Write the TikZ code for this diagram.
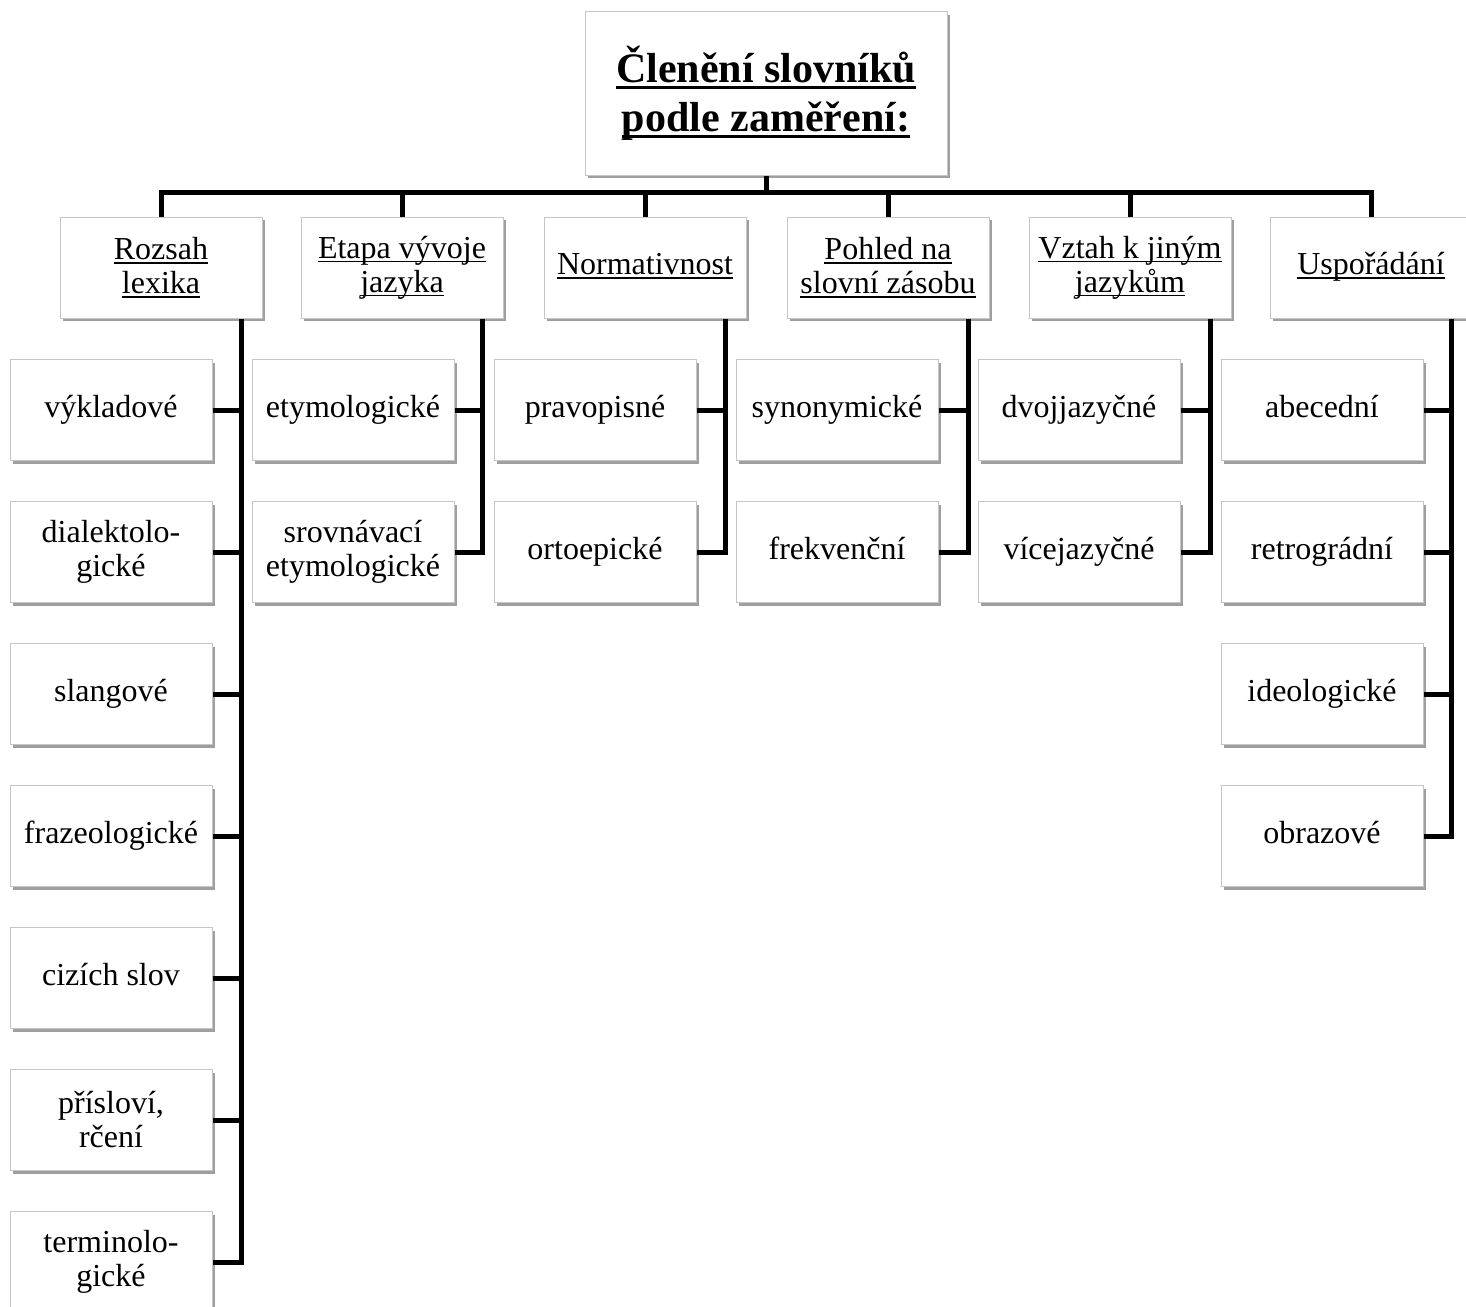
\documentclass[tikz,border=0pt]{standalone}
\usepackage{fontspec}
\setmainfont{Liberation Serif}
\usetikzlibrary{shadows}
\newcommand{\ulined}[3][4pt]{\setbox0\hbox{#3}\rlap{\rule[-#1]{\wd0}{#2}}\box0}
\begin{document}
\begin{tikzpicture}[x=1pt,y=-1pt, line width=5pt,
  box/.style={draw=gray!45, line width=1pt, fill=white, align=center, inner sep=2pt,
    drop shadow={shadow xshift=3pt, shadow yshift=-3pt, fill=gray!75, opacity=1}},
  head/.style={box, minimum width=362, minimum height=163, font=\fontsize{42}{47}\selectfont\bfseries},
  group/.style={box, minimum width=202, minimum height=101, font=\fontsize{32}{34}\selectfont},
  leaf/.style={box, minimum width=202, minimum height=101, font=\fontsize{32}{34}\selectfont},
  one/.style={text height=22pt, text depth=8pt}]
  \useasboundingbox (0,0) rectangle (1466,1306);
  \node[head] (top) at (766, 93.5) {\ulined[6pt]{3pt}{Členění slovníků}\\[2pt]\ulined[6pt]{3pt}{podle zaměření:}};
  \coordinate (bus) at (766, 192);

  % skupiny
  \node[group] (r) at (161, 267.5) {\ulined{1.5pt}{Rozsah}\\\ulined{1.5pt}{lexika}};
  \node[group] (e) at (402, 267.5) {\ulined{1.5pt}{Etapa vývoje}\\\ulined{1.5pt}{jazyka}};
  \node[group, one] (n) at (645, 267.5) {\ulined{1.5pt}{Normativnost}};
  \node[group] (p) at (888, 267.5) {\ulined{1.5pt}{Pohled na}\\\ulined{1.5pt}{slovní zásobu}};
  \node[group] (v) at (1130, 267.5) {\ulined{1.5pt}{Vztah k jiným}\\\ulined{1.5pt}{jazykům}};
  \node[group, one] (u) at (1371, 267.5) {\ulined{1.5pt}{Uspořádání}};

  % rozsah lexika
  \node[leaf, one] (r1) at (111, 410) {výkladové};
  \node[leaf] (r2) at (111, 552) {dialektolo-\\gické};
  \node[leaf, one] (r3) at (111, 694) {slangové};
  \node[leaf, one] (r4) at (111, 836) {frazeologické};
  \node[leaf, one] (r5) at (111, 978) {cizích slov};
  \node[leaf] (r6) at (111, 1120) {přísloví,\\rčení};
  \node[leaf] (r7) at (111, 1262) {terminolo-\\gické};
  % etapa vyvoje
  \node[leaf, one] (e1) at (353, 410) {etymologické};
  \node[leaf] (e2) at (353, 552) {srovnávací\\etymologické};
  % normativnost
  \node[leaf, one] (n1) at (595, 410) {pravopisné};
  \node[leaf, one] (n2) at (595, 552) {ortoepické};
  % pohled
  \node[leaf, one] (p1) at (837, 410) {synonymické};
  \node[leaf, one] (p2) at (837, 552) {frekvenční};
  % vztah
  \node[leaf, one] (v1) at (1079, 410) {dvojjazyčné};
  \node[leaf, one] (v2) at (1079, 552) {vícejazyčné};
  % usporadani
  \node[leaf, one] (u1) at (1322, 410) {abecední};
  \node[leaf, one] (u2) at (1322, 552) {retrográdní};
  \node[leaf, one] (u3) at (1322, 694) {ideologické};
  \node[leaf, one] (u4) at (1322, 836) {obrazové};

  \draw (top.south) -- (bus);
  \draw (r.north) -- (r.north |- bus) -- (u.north |- bus) -- (u.north);
  \foreach \g in {e,n,p,v}{\draw (\g.north) -- (\g.north |- bus); }

  \foreach \g/\last in {r/7,e/2,n/2,p/2,v/2,u/4}{
    \coordinate (\g s) at ([xshift=-21pt]\g.south east);
    \draw (\g s) |- (\g\last.east);
  }
  \foreach \c in {r1,r2,r3,r4,r5,r6}{\draw (\c.east) -- (\c.east -| rs); }
  \draw (e1.east) -- (e1.east -| es);
  \draw (n1.east) -- (n1.east -| ns);
  \draw (p1.east) -- (p1.east -| ps);
  \draw (v1.east) -- (v1.east -| vs);
  \foreach \c in {u1,u2,u3}{\draw (\c.east) -- (\c.east -| us); }
\end{tikzpicture}
\end{document}
